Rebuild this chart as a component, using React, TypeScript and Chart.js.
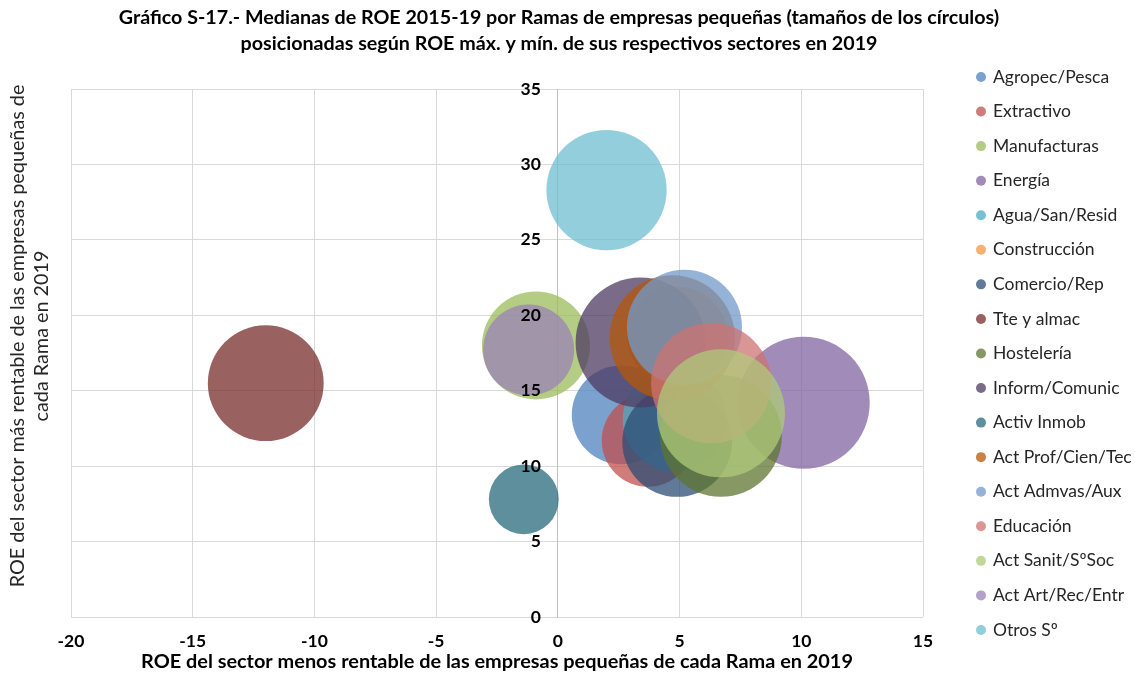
import React, { useEffect, useRef } from 'react';
import { Chart, registerables } from 'chart.js';

Chart.register(...registerables);

// ---- Data ----
const categories = [
  'Agropec/Pesca', 'Extractivo', 'Manufacturas', 'Energía', 'Agua/San/Resid',
  'Construcción', 'Comercio/Rep', 'Tte y almac', 'Hostelería', 'Inform/Comunic',
  'Activ Inmob', 'Act Prof/Cien/Tec', 'Act Admvas/Aux', 'Educación',
  'Act Sanit/SºSoc', 'Act Art/Rec/Entr', 'Otros Sº',
];
// ROE of the least profitable sector (x)
const roeMinSector = [2.6, 3.7, -0.9, 10.1, 4.8, 4.9, 4.9, -12.0, 6.7, 3.4, -1.4, 4.7, 5.2, 6.3, 6.7, -1.2, 2.0];
// ROE of the most profitable sector (y)
const roeMaxSector = [13.4, 11.7, 18.0, 14.2, 13.1, 18.6, 11.6, 15.5, 12.0, 18.2, 7.8, 18.5, 19.2, 15.5, 13.5, 17.7, 28.3];
// Median ROE 2015-19 (bubble size, area proportional)
const medianaROE = [5.6, 4.9, 6.7, 10.0, 6.2, 5.7, 6.9, 7.7, 8.5, 9.7, 2.8, 9.0, 7.6, 8.3, 9.4, 4.75, 8.3];

const seriesColors = [
  '#4F81BD', '#C0504D', '#9BBB59', '#8064A2', '#4BACC6', '#F79646',
  '#2C4D75', '#772C2A', '#5F7530', '#4D3B62', '#276A7C', '#B65708',
  '#729ACA', '#CD7371', '#AFC97A', '#9983B5', '#6FBDD1',
];

const titleLines = [
  'Gráfico S-17.- Medianas de ROE 2015-19 por Ramas de empresas pequeñas (tamaños de los círculos)',
  'posicionadas según ROE máx. y mín. de sus respectivos sectores en 2019',
];
const xTitle = 'ROE del sector menos rentable de las empresas pequeñas de cada Rama en 2019';
const yTitleLines = [
  'ROE del sector más rentable de las empresas pequeñas de',
  'cada Rama en 2019',
];
const xMin = -20, xMax = 15, yMin = 0, yMax = 35, step = 5;

const FONT = 'Lato, "Open Sans", "DejaVu Sans", sans-serif';
const MAX_R = 66;

function rgba(hex: string, a: number) {
  const n = parseInt(hex.slice(1), 16);
  return `rgba(${(n >> 16) & 255}, ${(n >> 8) & 255}, ${n & 255}, ${a})`;
}

const sidePlugin = {
  id: 'sideLegendAndYTitle',
  afterDraw(chart: any) {
    const ctx = chart.ctx;
    const xs = chart.scales.x;
    const ys = chart.scales.y;
    ctx.save();
    // y tick labels next to the x = 0 axis
    ctx.font = `bold 17.5px ${FONT}`;
    ctx.textAlign = 'right';
    ctx.textBaseline = 'middle';
    ctx.fillStyle = '#000';
    const x0 = xs.getPixelForValue(0);
    ys.ticks.forEach((t: any) => {
      ctx.fillText(String(t.value), x0 - 17, ys.getPixelForValue(t.value));
    });
    // legend
    ctx.font = `17.5px ${FONT}`;
    ctx.textAlign = 'left';
    chart.data.datasets.forEach((ds: any, i: number) => {
      const y = 77 + i * 34.56;
      ctx.beginPath();
      ctx.arc(981, y, 5, 0, Math.PI * 2);
      ctx.fillStyle = ds.backgroundColor;
      ctx.fill();
      ctx.fillStyle = '#262626';
      ctx.fillText(ds.label, 993, y);
    });
    // y axis title
    ctx.translate(0, 336);
    ctx.rotate(-Math.PI / 2);
    ctx.font = `19.8px ${FONT}`;
    ctx.textAlign = 'center';
    ctx.fillStyle = '#262626';
    yTitleLines.forEach((line, i) => {
      ctx.fillText(line, 0, 18 + i * 24);
    });
    ctx.restore();
  },
};

export default function App() {
  const ref = useRef<HTMLCanvasElement | null>(null);

  useEffect(() => {
    if (!ref.current) return;
    const vMax = Math.max(...medianaROE);
    const spacer = (w: number, pos: 'left' | 'right') => ({
      type: 'linear' as const,
      position: pos,
      min: yMin,
      max: yMax,
      display: true,
      ticks: { display: false },
      grid: { display: false },
      border: { display: false },
      afterFit: (s: any) => { s.width = w; },
    });
    const chart = new Chart(ref.current, {
      type: 'bubble',
      data: {
        datasets: categories.map((c, i) => ({
          label: c,
          data: [{ x: roeMinSector[i], y: roeMaxSector[i], r: MAX_R * Math.sqrt(medianaROE[i] / vMax) }],
          backgroundColor: rgba(seriesColors[i], 0.75),
          borderWidth: 0,
          hoverBorderWidth: 0,
          order: categories.length - i,
          xAxisID: 'x',
          yAxisID: 'y',
        })),
      },
      options: {
        responsive: false,
        maintainAspectRatio: false,
        animation: false,
        events: [],
        layout: { autoPadding: false, padding: { left: 0, right: 17, top: 0, bottom: 0 } },
        plugins: {
          legend: { display: false },
          tooltip: { enabled: false },
          title: {
            display: true,
            text: titleLines,
            color: '#000',
            font: { family: FONT, size: 19.7, weight: 'bold', lineHeight: '26px' },
            padding: { top: 5, bottom: 32 },
          },
        },
        scales: {
          x: {
            type: 'linear',
            position: 'bottom',
            min: xMin,
            max: xMax,
            ticks: { stepSize: step, padding: 13.5, color: '#000', font: { family: FONT, size: 17.5, weight: 'bold' } },
            grid: { color: '#d9d9d9', drawTicks: false, lineWidth: 1 },
            border: { display: false },
            title: {
              display: true,
              text: xTitle,
              color: '#000',
              font: { family: FONT, size: 19.9, weight: 'bold' },
              padding: { top: 0, bottom: 1 },
            },
            afterFit: (s: any) => { s.height = 58; },
          },
          y: {
            type: 'linear',
            position: { x: 0 },
            min: yMin,
            max: yMax,
            ticks: { stepSize: step, display: false },
            grid: { color: '#d9d9d9', drawTicks: false, lineWidth: 1 },
            border: { color: '#bfbfbf' },
          },
          yLeft: spacer(71, 'left'),
          yRight: spacer(195, 'right'),
        },
      },
      plugins: [sidePlugin],
    });
    return () => chart.destroy();
  }, []);

  return (
    <div style={{ position: 'absolute', left: 0, top: 0, width: 1135, height: 675, background: '#fff' }}>
      <canvas ref={ref} width={1135} height={675} style={{ display: 'block' }} />
    </div>
  );
}
